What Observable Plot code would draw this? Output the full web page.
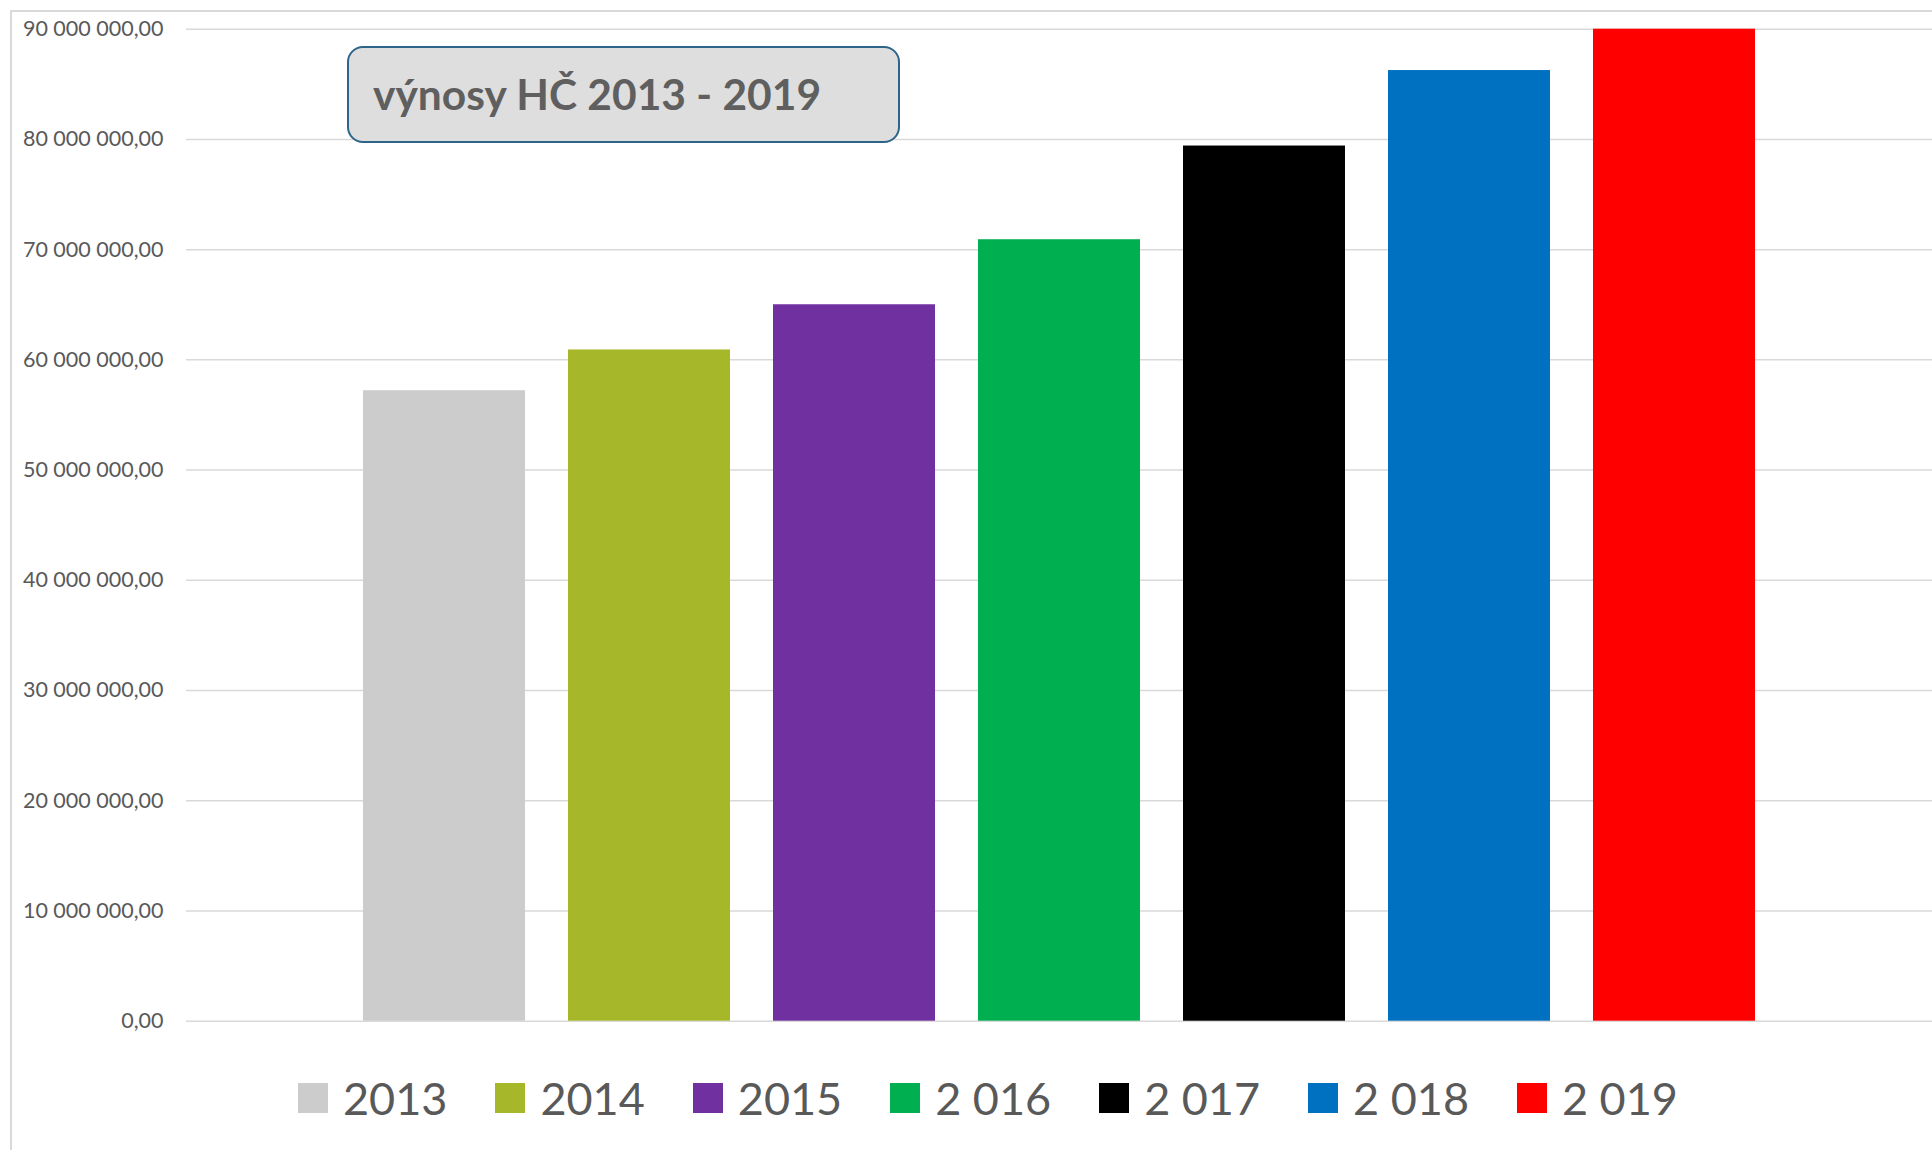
<!DOCTYPE html>
<html>
<head>
<meta charset="utf-8">
<script src="https://cdn.jsdelivr.net/npm/d3@7"></script>
<script src="https://cdn.jsdelivr.net/npm/@observablehq/plot@0.6"></script>
<style>
  html, body { margin: 0; padding: 0; background: #fff; width: 1932px; height: 1150px; overflow: hidden; }
  #wrap { position: relative; width: 1932px; height: 1150px; }
  #border { position: absolute; left: 10px; top: 10px; width: 2000px; height: 1200px;
    border-left: 2px solid #d9d9d9; border-top: 2px solid #d9d9d9; box-sizing: border-box; }
  #chart { position: absolute; left: 0; top: 0; }
  #title { position: absolute; left: 347px; top: 46px; width: 553px; height: 97px; box-sizing: border-box;
    background: #dedede; border: 2.5px solid #2f6489; border-radius: 16px;
    font-family: Lato, "Open Sans", sans-serif; font-weight: bold; font-size: 42.5px; color: #5f5f5f;
    display: flex; align-items: center; padding-left: 24px; padding-bottom: 2px; }
  #legend { position: absolute; left: 298px; top: 1071px; display: flex; align-items: center;
    font-family: Lato, "Noto Sans", sans-serif; font-size: 45px; color: #595959; }
  .item { display: flex; align-items: center; margin-right: 48px; }
  .sw { width: 30px; height: 30px; margin-right: 15px; }
</style>
</head>
<body>
<div id="wrap">
  <div id="border"></div>
  <div id="chart"></div>
  <div id="title"></div>
  <div id="legend"></div>
</div>
<script>
const years = ["2013", "2014", "2015", "2016", "2017", "2018", "2019"];
const legendLabels = ["2013", "2014", "2015", "2 016", "2 017", "2 018", "2 019"];
const values = [57200000, 60900000, 65000000, 70900000, 79400000, 86250000, 90000000];
const colors = ["#cccccc", "#a6b829", "#7030a0", "#00b050", "#000000", "#0070c0", "#ff0000"];
const yTickValues = [0, 10000000, 20000000, 30000000, 40000000, 50000000, 60000000, 70000000, 80000000, 90000000];
const yTickLabels = ["0,00", "10 000 000,00", "20 000 000,00", "30 000 000,00", "40 000 000,00",
  "50 000 000,00", "60 000 000,00", "70 000 000,00", "80 000 000,00", "90 000 000,00"];
const titleText = "výnosy HČ 2013 - 2019";

const data = years.map((y, i) => ({year: y, value: values[i], color: colors[i]}));
const fmt = (d) => yTickLabels[yTickValues.indexOf(d)];

const chart = Plot.plot({
  width: 1932,
  height: 1060,
  marginLeft: 186,
  marginRight: 0,
  marginTop: 28.7,
  marginBottom: 39.3,
  style: {fontFamily: "Lato, 'Noto Sans', sans-serif", fontSize: "21.5px", color: "#595959", background: "transparent"},
  x: {type: "band", domain: years, range: [320, 1798], padding: 0.2098, round: false, axis: null},
  y: {domain: [0, 90000000], clamp: true, ticks: yTickValues, tickFormat: fmt, tickSize: 0, tickPadding: 23, label: null},
  marks: [
    Plot.ruleY(yTickValues, {stroke: "#d9d9d9", strokeWidth: 1.5}),
    Plot.barY(data, {x: "year", y: "value", fill: "color"}),
    Plot.axisY({ticks: yTickValues, tickFormat: fmt, tickSize: 0, tickPadding: 23, fill: "#595959", fontSize: 21.5, label: null})
  ]
});
document.getElementById("chart").appendChild(chart);

document.getElementById("title").textContent = titleText;

const legend = document.getElementById("legend");
legendLabels.forEach((lab, i) => {
  const it = document.createElement("div");
  it.className = "item";
  const sw = document.createElement("div");
  sw.className = "sw";
  sw.style.background = colors[i];
  const t = document.createElement("span");
  t.textContent = lab;
  it.appendChild(sw);
  it.appendChild(t);
  legend.appendChild(it);
});
</script>
</body>
</html>
